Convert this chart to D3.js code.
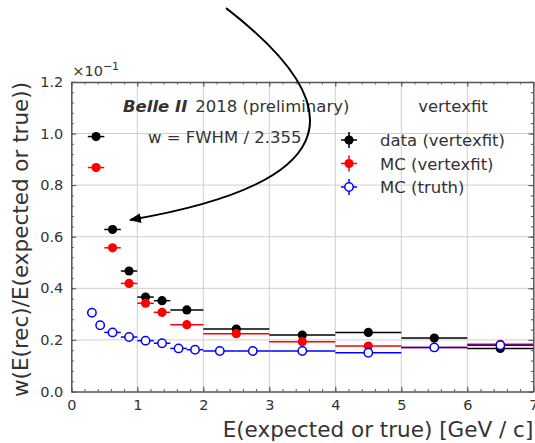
<!DOCTYPE html>
<html>
<head>
<meta charset="utf-8">
<script src="https://cdn.jsdelivr.net/npm/d3@7"></script>
<style>
  body { margin: 0; background: #fff; }
  svg { display: block; font-family: "DejaVu Sans", sans-serif; }
</style>
</head>
<body>
<div id="chart"></div>
<script>
// ---- data (y values in absolute units; axis shows ×10⁻¹) ----
const dataCenters = [0.375, 0.625, 0.875, 1.125, 1.375, 1.75, 2.5, 3.5, 4.5, 5.5, 6.5];
const dataHalfW   = [0.125, 0.125, 0.125, 0.125, 0.125, 0.25, 0.5, 0.5, 0.5, 0.5, 0.5];
const dataValues  = [0.0988, 0.0628, 0.0467, 0.0366, 0.0352, 0.0316, 0.0242, 0.0219, 0.0229, 0.0207, 0.0167];
const mcVtxValues = [0.0868, 0.0557, 0.0419, 0.0342, 0.0307, 0.0259, 0.0224, 0.0193, 0.0176, 0.0171, 0.0183];

const truthCenters = [0.3125, 0.4375, 0.625, 0.875, 1.125, 1.375, 1.625, 1.875, 2.25, 2.75, 3.5, 4.5, 5.5, 6.5];
const truthHalfW   = [0.0625, 0.0625, 0.125, 0.125, 0.125, 0.125, 0.125, 0.125, 0.25, 0.25, 0.5, 0.5, 0.5, 0.5];
const truthValues  = [0.0305, 0.0257, 0.0229, 0.0211, 0.0197, 0.0187, 0.0167, 0.0162, 0.0157, 0.0157, 0.0157, 0.0150, 0.0171, 0.0179];

const xTicks = [0, 1, 2, 3, 4, 5, 6, 7];
const yTicks = [0, 0.02, 0.04, 0.06, 0.08, 0.10, 0.12];
const legendLabels = ["data (vertexfit)", "MC (vertexfit)", "MC (truth)"];
const arrowPts = [[2.345, 0.1486], [5.48, 0.0866], [0.89, 0.0665]];

// ---- layout ----
const W = 535, H = 443;
const x = d3.scaleLinear().domain([0, 7]).range([71.3, 533.3]);
const y = d3.scaleLinear().domain([0, 0.12]).range([391.5, 81.9]);
const spine = "#555", txt = "#333", grid = "#cfcfcf";

const svg = d3.select("#chart").append("svg").attr("width", W).attr("height", H);

// grid
const g = svg.append("g");
g.selectAll(".gx").data(xTicks.slice(1, -1)).join("line")
  .attr("x1", d => x(d)).attr("x2", d => x(d)).attr("y1", y(0)).attr("y2", y(0.12))
  .attr("stroke", grid).attr("stroke-width", 1);
g.selectAll(".gy").data(yTicks.slice(1, -1)).join("line")
  .attr("x1", x(0)).attr("x2", x(7)).attr("y1", d => y(d)).attr("y2", d => y(d))
  .attr("stroke", grid).attr("stroke-width", 1);

// axes
const xMinor = d3.range(0, 7.0001, 0.2).map(v => +v.toFixed(2));
const yMinor = d3.range(0, 0.12001, 0.004).map(v => +v.toFixed(4));
function styleAxis(sel, hideDomain) {
  sel.selectAll("line").attr("stroke", spine).attr("stroke-width", 1);
  sel.select(".domain").attr("stroke", hideDomain ? "none" : spine).attr("stroke-width", 1.5);
  sel.selectAll("text").attr("fill", txt).style("font-size", "14.5px").style("font-family", "DejaVu Sans");
}
const axB = svg.append("g").attr("transform", `translate(0,${y(0)})`)
  .call(d3.axisBottom(x).tickValues(xTicks).tickSize(-5).tickSizeOuter(0).tickPadding(8).tickFormat(d3.format("d")));
styleAxis(axB);
const axBm = svg.append("g").attr("transform", `translate(0,${y(0)})`)
  .call(d3.axisBottom(x).tickValues(xMinor).tickSize(-2.5).tickSizeOuter(0).tickFormat(""));
styleAxis(axBm, true);
const axT = svg.append("g").attr("transform", `translate(0,${y(0.12)})`)
  .call(d3.axisTop(x).tickValues(xTicks).tickSize(-5).tickSizeOuter(0).tickFormat(""));
styleAxis(axT);
const axTm = svg.append("g").attr("transform", `translate(0,${y(0.12)})`)
  .call(d3.axisTop(x).tickValues(xMinor).tickSize(-2.5).tickSizeOuter(0).tickFormat(""));
styleAxis(axTm, true);
const axL = svg.append("g").attr("transform", `translate(${x(0)},0)`)
  .call(d3.axisLeft(y).tickValues(yTicks).tickSize(-5).tickSizeOuter(0).tickPadding(8).tickFormat(d => (d * 10).toFixed(1)));
styleAxis(axL);
const axLm = svg.append("g").attr("transform", `translate(${x(0)},0)`)
  .call(d3.axisLeft(y).tickValues(yMinor).tickSize(-2.5).tickSizeOuter(0).tickFormat(""));
styleAxis(axLm, true);
const axR = svg.append("g").attr("transform", `translate(${x(7)},0)`)
  .call(d3.axisRight(y).tickValues(yTicks).tickSize(-5).tickSizeOuter(0).tickFormat(""));
styleAxis(axR);
const axRm = svg.append("g").attr("transform", `translate(${x(7)},0)`)
  .call(d3.axisRight(y).tickValues(yMinor).tickSize(-2.5).tickSizeOuter(0).tickFormat(""));
styleAxis(axRm, true);

// offset text ×10⁻¹
const off = svg.append("text").attr("x", x(0) + 1).attr("y", y(0.12) - 6)
  .attr("fill", txt).style("font-size", "14.5px");
off.append("tspan").text("×10");
off.append("tspan").attr("dy", -6).style("font-size", "11px").text("−1");

// axis labels
svg.append("text").attr("x", x(7)).attr("y", 437).attr("text-anchor", "end")
  .attr("fill", txt).style("font-size", "21.5px").text("E(expected or true) [GeV / c]");
svg.append("text").attr("transform", `translate(28,${y(0.12)}) rotate(-90)`).attr("text-anchor", "end")
  .attr("fill", txt).style("font-size", "21.5px").text("w(E(rec)/E(expected or true))");

// series
function drawSeries(centers, halfW, vals, color, open) {
  const sg = svg.append("g");
  sg.selectAll("line").data(centers).join("line")
    .attr("x1", (d, i) => x(d - halfW[i])).attr("x2", (d, i) => x(d + halfW[i]))
    .attr("y1", (d, i) => y(vals[i])).attr("y2", (d, i) => y(vals[i]))
    .attr("stroke", color).attr("stroke-width", 1.5);
  sg.selectAll("circle").data(centers).join("circle")
    .attr("cx", d => x(d)).attr("cy", (d, i) => y(vals[i]))
    .attr("r", open ? 4.2 : 4.6)
    .attr("fill", open ? "#fff" : color)
    .attr("stroke", color).attr("stroke-width", open ? 1.5 : 0);
}
drawSeries(dataCenters, dataHalfW, dataValues, "#000", false);
drawSeries(dataCenters, dataHalfW, mcVtxValues, "#ff0000", false);
drawSeries(truthCenters, truthHalfW, truthValues, "#0000ff", true);

// texts
const t1 = svg.append("text").attr("x", 123).attr("y", 112).attr("fill", txt).style("font-size", "16.5px");
t1.append("tspan").style("font-weight", "bold").style("font-style", "italic").text("Belle II");
t1.append("tspan").attr("dx", 8).text("2018 (preliminary)");
svg.append("text").attr("x", 453).attr("y", 112).attr("text-anchor", "middle").attr("fill", txt)
  .style("font-size", "16.5px").text("vertexfit");
svg.append("text").attr("x", 148).attr("y", 143).attr("fill", txt)
  .style("font-size", "16.5px").text("w = FWHM / 2.355");

// legend
const legColors = ["#000", "#ff0000", "#0000ff"];
const lg = svg.append("g");
legendLabels.forEach((lab, i) => {
  const cy = 140 + i * 23.5, cx = 349;
  lg.append("line").attr("x1", cx - 8).attr("x2", cx + 8).attr("y1", cy).attr("y2", cy)
    .attr("stroke", legColors[i]).attr("stroke-width", 1.5);
  lg.append("line").attr("x1", cx).attr("x2", cx).attr("y1", cy - 8).attr("y2", cy + 8)
    .attr("stroke", legColors[i]).attr("stroke-width", 1.5);
  lg.append("circle").attr("cx", cx).attr("cy", cy).attr("r", i === 2 ? 4.2 : 4.6)
    .attr("fill", i === 2 ? "#fff" : legColors[i]).attr("stroke", legColors[i])
    .attr("stroke-width", i === 2 ? 1.5 : 0);
  lg.append("text").attr("x", 380).attr("y", cy + 6).attr("fill", txt)
    .style("font-size", "16.5px").text(lab);
});

// arrow annotation
svg.append("defs").append("marker").attr("id", "ah")
  .attr("viewBox", "0 0 12 10").attr("refX", 11).attr("refY", 5)
  .attr("markerWidth", 12).attr("markerHeight", 10)
  .attr("markerUnits", "userSpaceOnUse").attr("orient", "auto")
  .append("path").attr("d", "M0,0 L12,5 L0,10 Z").attr("fill", "#000");
const ap = d3.path();
ap.moveTo(x(arrowPts[0][0]), y(arrowPts[0][1]));
ap.quadraticCurveTo(x(arrowPts[1][0]), y(arrowPts[1][1]), x(arrowPts[2][0]), y(arrowPts[2][1]));
svg.append("path").attr("d", ap.toString()).attr("fill", "none")
  .attr("stroke", "#000").attr("stroke-width", 2).attr("marker-end", "url(#ah)");
</script>
</body>
</html>
